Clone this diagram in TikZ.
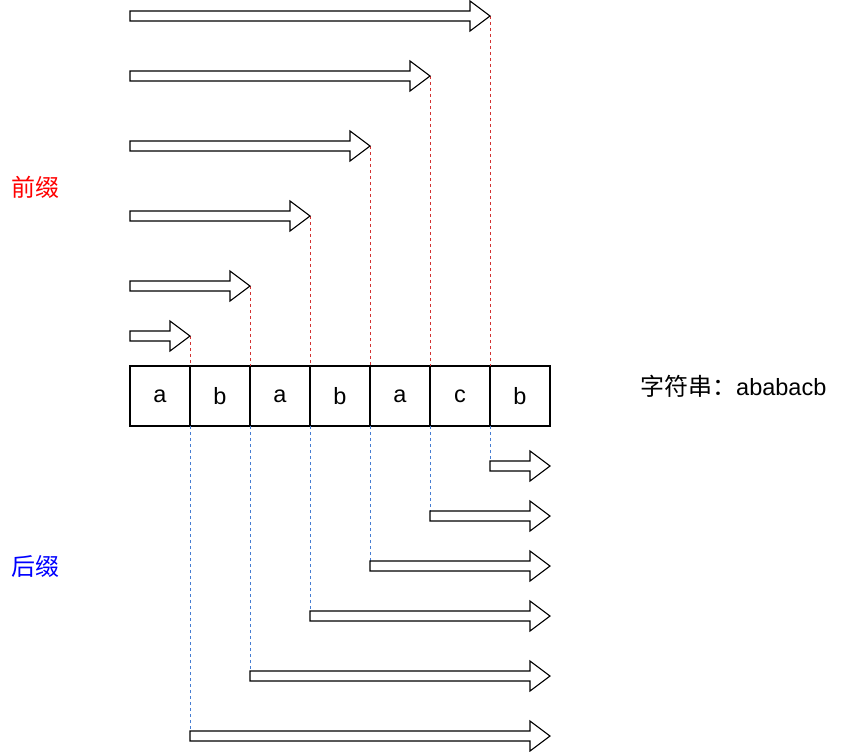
\documentclass[tikz,border=0pt]{standalone}
\usepackage{fontspec}
\setmainfont{Liberation Sans}
\newfontfamily\cjk{Noto Sans CJK SC}
\definecolor{prered}{RGB}{210,50,50}
\definecolor{sufblue}{RGB}{70,125,210}
\newcommand\fatarrow[3]{%
  \draw[arrowshape] (#1,#3-5) -- (#2-20,#3-5) -- (#2-20,#3-15) -- (#2,#3)
    -- (#2-20,#3+15) -- (#2-20,#3+5) -- (#1,#3+5) -- cycle;}
\begin{document}
\begin{tikzpicture}[x=1pt,y=-1pt,
  arrowshape/.style={draw=black,fill=white,line width=1.1pt,line join=miter},
  cell/.style={draw=black,line width=1.1pt,minimum width=60pt,minimum height=60pt,inner sep=0pt,font=\fontsize{23.5}{28}\selectfont},
  predash/.style={draw=prered,line width=0.8pt,dash pattern=on 3pt off 3pt},
  sufdash/.style={draw=sufblue,line width=0.8pt,dash pattern=on 3pt off 3pt}]
\useasboundingbox (0,0) rectangle (841,752);
% string cells
\foreach \i/\ch in {1/a,2/b,3/a,4/b,5/a,6/c,7/b}{
  \node[cell] (c\i) at (100+60*\i,396) {\ch};
}
% prefix dashed guides
\foreach \x/\y in {490/16,430/76,370/146,310/216,250/286,190/336}{
  \draw[predash] (\x,\y) -- (\x,366);
}
% suffix dashed guides
\foreach \x/\y in {490/466,430/516,370/566,310/616,250/676,190/736}{
  \draw[sufdash] (\x,426) -- (\x,\y);
}
% prefix arrows
\fatarrow{130}{490}{16}
\fatarrow{130}{430}{76}
\fatarrow{130}{370}{146}
\fatarrow{130}{310}{216}
\fatarrow{130}{250}{286}
\fatarrow{130}{190}{336}
% suffix arrows
\fatarrow{490}{550}{466}
\fatarrow{430}{550}{516}
\fatarrow{370}{550}{566}
\fatarrow{310}{550}{616}
\fatarrow{250}{550}{676}
\fatarrow{190}{550}{736}
% labels
\node[anchor=west,inner sep=0pt,text=red,font=\cjk\fontsize{24}{28}\selectfont] (pre) at (11,187) {前缀};
\node[anchor=west,inner sep=0pt,text=blue,font=\cjk\fontsize{24}{28}\selectfont] (suf) at (11,566) {后缀};
\node[anchor=west,inner sep=0pt,font=\fontsize{23.5}{28}\selectfont] (str) at (640,386) {{\cjk\fontsize{24}{28}\selectfont 字符串：}ababacb};
\end{tikzpicture}
\end{document}
